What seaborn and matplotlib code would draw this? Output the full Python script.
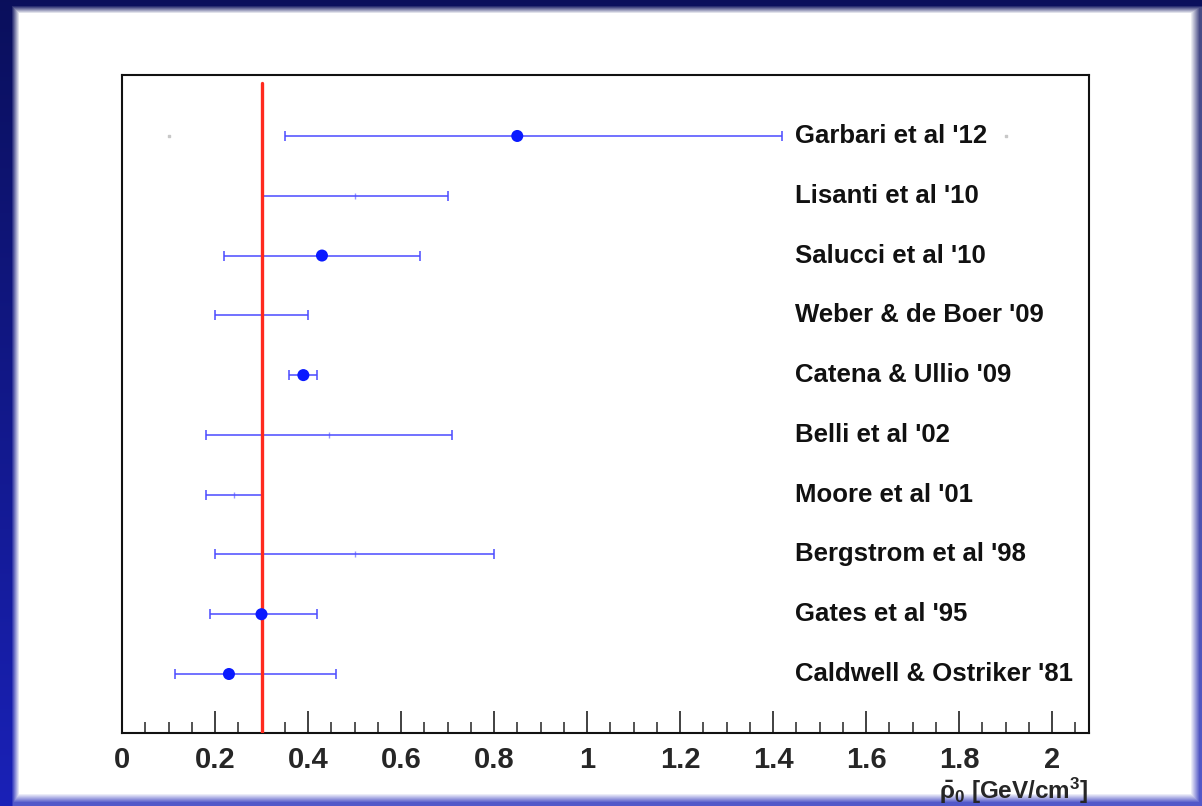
import numpy as np
import pandas as pd
import matplotlib
matplotlib.use("Agg")
import matplotlib.pyplot as plt
import seaborn as sns
from matplotlib.ticker import MultipleLocator, FuncFormatter

# ---- data ----
studies = ["Garbari et al '12", "Lisanti et al '10", "Salucci et al '10",
           "Weber & de Boer '09", "Catena & Ullio '09", "Belli et al '02",
           "Moore et al '01", "Bergstrom et al '98", "Gates et al '95",
           "Caldwell & Ostriker '81"]
rows = [10, 9, 8, 7, 6, 5, 4, 3, 2, 1]
central = [0.85, 0.50, 0.43, 0.30, 0.39, 0.445, 0.24, 0.50, 0.30, 0.23]
lower = [0.35, 0.30, 0.22, 0.20, 0.36, 0.18, 0.18, 0.20, 0.19, 0.115]
upper = [1.42, 0.70, 0.64, 0.40, 0.42, 0.71, 0.30, 0.80, 0.42, 0.46]
has_marker = [True, False, True, False, True, False, False, False, True, True]
stray_x = [0.10, 1.90]
stray_row = [10, 10]
reference_value = 0.3

df = pd.DataFrame(dict(study=studies, row=rows, central=central,
                       lower=lower, upper=upper, marker=has_marker))

sns.set_theme(style="ticks")
plt.rcParams['font.family'] = ['Liberation Sans', 'DejaVu Sans']
plt.rcParams['font.weight'] = 'bold'
plt.rcParams['mathtext.fontset'] = 'custom'
plt.rcParams['mathtext.rm'] = 'Liberation Sans:bold'
plt.rcParams['mathtext.it'] = 'Liberation Sans'
plt.rcParams['mathtext.bf'] = 'Liberation Sans:bold'

W, H = 1202, 806
fig = plt.figure(figsize=(W / 100, H / 100), dpi=100)
fig.patch.set_facecolor('white')

# ---- decorative frame ----
bg = fig.add_axes([0, 0, 1, 1], zorder=-10)
yy, xx = np.mgrid[0:H, 0:W].astype(float)
t = yy / H
navy = np.array([0.04, 0.06, 0.36])
blue = np.array([0.10, 0.13, 0.72])
base = navy[None, None, :] * (1 - t[..., None]) + blue[None, None, :] * t[..., None]
def side(d, solid, fade, amp):
    return amp * np.clip(1 - (d - solid) / fade, 0, 1)
wl = side(xx, 11, 8, 1.0)
wt = side(yy, 5, 8, 1.0)
wr = side(W - 1 - xx, 2, 9, 0.75)
wb = side(H - 1 - yy, 3, 9, 0.75)
w = np.maximum.reduce([wl, wt, wr, wb])[..., None]
img = base * w + (1 - w) * 1.0
bg.imshow(img, aspect='auto', interpolation='nearest')
bg.set_axis_off()

# ---- main axes ----
ax = fig.add_axes([122 / W, 1 - 733 / H, (1089 - 122) / W, (733 - 75) / H])
ax.set_facecolor('white')

for _, r in df.iterrows():
    ax.errorbar(r.central, r.row,
                xerr=[[r.central - r.lower], [r.upper - r.central]],
                fmt='none', ecolor=(0.3, 0.3, 1.0), elinewidth=1.4,
                capsize=3.5, capthick=1.4, alpha=0.8, zorder=2)
    if not r.marker:
        ax.plot(r.central, r.row, marker='|', ms=4, color=(0.3, 0.3, 1.0),
                alpha=0.6, zorder=2)

sns.scatterplot(data=df[df.marker], x='central', y='row', ax=ax,
                color='#0a1aff', s=75, edgecolor='none', zorder=4, legend=False)
ax.scatter(stray_x, stray_row, marker='s', s=4, color='#c8c8c8', zorder=1)

ax.axvline(reference_value, ymin=0, ymax=(733 - 83) / (733 - 75),
           color='#ff2a1e', lw=2.4, zorder=3)

for s, r in zip(studies, rows):
    ax.text(1.448, r, s, ha='left', va='center', fontsize=18.5,
            fontweight='bold', color='#111111')

ax.set_xlim(0, 967 / 465)
ax.set_ylim(0.013, 11.02)
ax.set_yticks([])
ax.set_ylabel('')
ax.xaxis.set_major_locator(MultipleLocator(0.2))
ax.xaxis.set_minor_locator(MultipleLocator(0.05))
ax.xaxis.set_major_formatter(FuncFormatter(lambda v, p: f"{v:g}"))
ax.tick_params(axis='x', which='major', direction='in', length=16, width=1.3,
               color='#333333', labelsize=21, pad=9)
ax.tick_params(axis='x', which='minor', direction='in', length=8, width=1.3,
               color='#444444')
for lab in ax.get_xticklabels():
    lab.set_fontweight('bold')
for sp in ax.spines.values():
    sp.set_visible(True)
    sp.set_linewidth(1.5)
    sp.set_color('#111111')

ax.set_xlabel(r'$\bar{\mathit{\rho}}_{0}$ [GeV/cm$^{3}$]', fontsize=17.5,
              fontweight='bold')
ax.xaxis.set_label_coords(1.0, -(776 - 733) / (733 - 75))
ax.xaxis.label.set_horizontalalignment('right')
ax.xaxis.label.set_verticalalignment('top')

fig.savefig('out.png', dpi=100, facecolor='white')
